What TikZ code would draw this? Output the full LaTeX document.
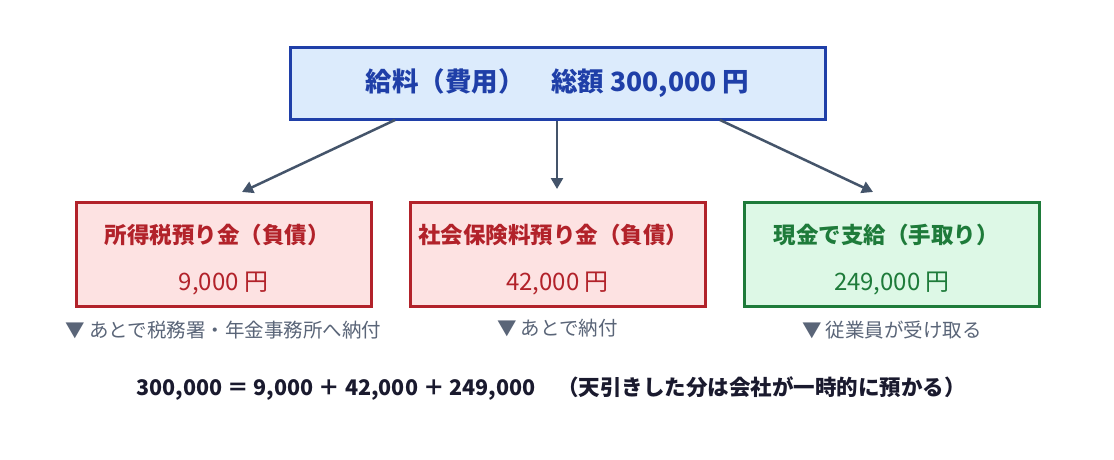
\documentclass[tikz,border=0pt]{standalone}
\usepackage{fontspec}
\setmainfont{Noto Sans CJK JP}
\usetikzlibrary{arrows.meta}
\definecolor{bluefill}{HTML}{DCEBFC}
\definecolor{blueline}{HTML}{1F3FA8}
\definecolor{redfill}{HTML}{FDE2E2}
\definecolor{redline}{HTML}{B2222A}
\definecolor{greenfill}{HTML}{DDF8E6}
\definecolor{greenline}{HTML}{1E7B3A}
\definecolor{arrowc}{HTML}{44546A}
\definecolor{notec}{HTML}{5A6578}
\definecolor{eqc}{HTML}{1A1A2E}
\tikzset{
 box/.style={draw,line width=3pt,minimum width=295pt,minimum height=104pt},
 arr/.style={draw=arrowc,line width=2.5pt,-{Triangle[length=11pt,width=12pt]}},
 note/.style={text=notec,font=\fontsize{19.5}{22}\selectfont},
}
\begin{document}
\begin{tikzpicture}[x=1pt,y=-1pt]
\useasboundingbox[fill=white] (0,0) rectangle (1114,460);
\node[box,fill=bluefill,draw=blueline,minimum width=535pt,minimum height=71pt,text=blueline,font=\fontsize{26.5}{30}\selectfont\bfseries] (top) at (557.5,83.5) {給料（費用）\quad 総額 300,000 円};
\node[box,fill=redfill,draw=redline] (b1) at (223.5,254) {};
\node[box,fill=redfill,draw=redline] (b2) at (557.5,254) {};
\node[box,fill=greenfill,draw=greenline] (b3) at (892,254) {};
\node[text=redline,font=\fontsize{22.5}{26}\selectfont\bfseries] (t1) at (217,235) {所得税預り金（負債）};
\node[text=redline,font=\fontsize{24}{28}\selectfont] (a1) at (223.5,284) {9,000 円};
\node[text=redline,font=\fontsize{22.5}{26}\selectfont\bfseries] (t2) at (553,235) {社会保険料預り金（負債）};
\node[text=redline,font=\fontsize{24}{28}\selectfont] (a2) at (557.5,284) {42,000 円};
\node[text=greenline,font=\fontsize{22.5}{26}\selectfont\bfseries] (t3) at (886,235) {現金で支給（手取り）};
\node[text=greenline,font=\fontsize{24}{28}\selectfont] (a3) at (892,284) {249,000 円};
\coordinate (s1) at (395,120); \coordinate (e1) at (242,192);
\coordinate (s2) at (557,121); \coordinate (e2) at (557,189);
\coordinate (s3) at (720,120); \coordinate (e3) at (873,192);
\draw[arr] (s1) -- (e1);
\draw[arr] (s2) -- (e2);
\draw[arr] (s3) -- (e3);
\node[note] (n1) at (223.5,330) {▼ あとで税務署・年金事務所へ納付};
\node[note] (n2) at (557.5,328) {▼ あとで納付};
\node[note] (n3) at (892,330) {▼ 従業員が受け取る};
\node[text=eqc,font=\fontsize{21.5}{25}\selectfont\bfseries] (eq) at (551,389) {300,000 ＝ 9,000 ＋ 42,000 ＋ 249,000\quad（天引きした分は会社が一時的に預かる）};
\end{tikzpicture}
\end{document}
